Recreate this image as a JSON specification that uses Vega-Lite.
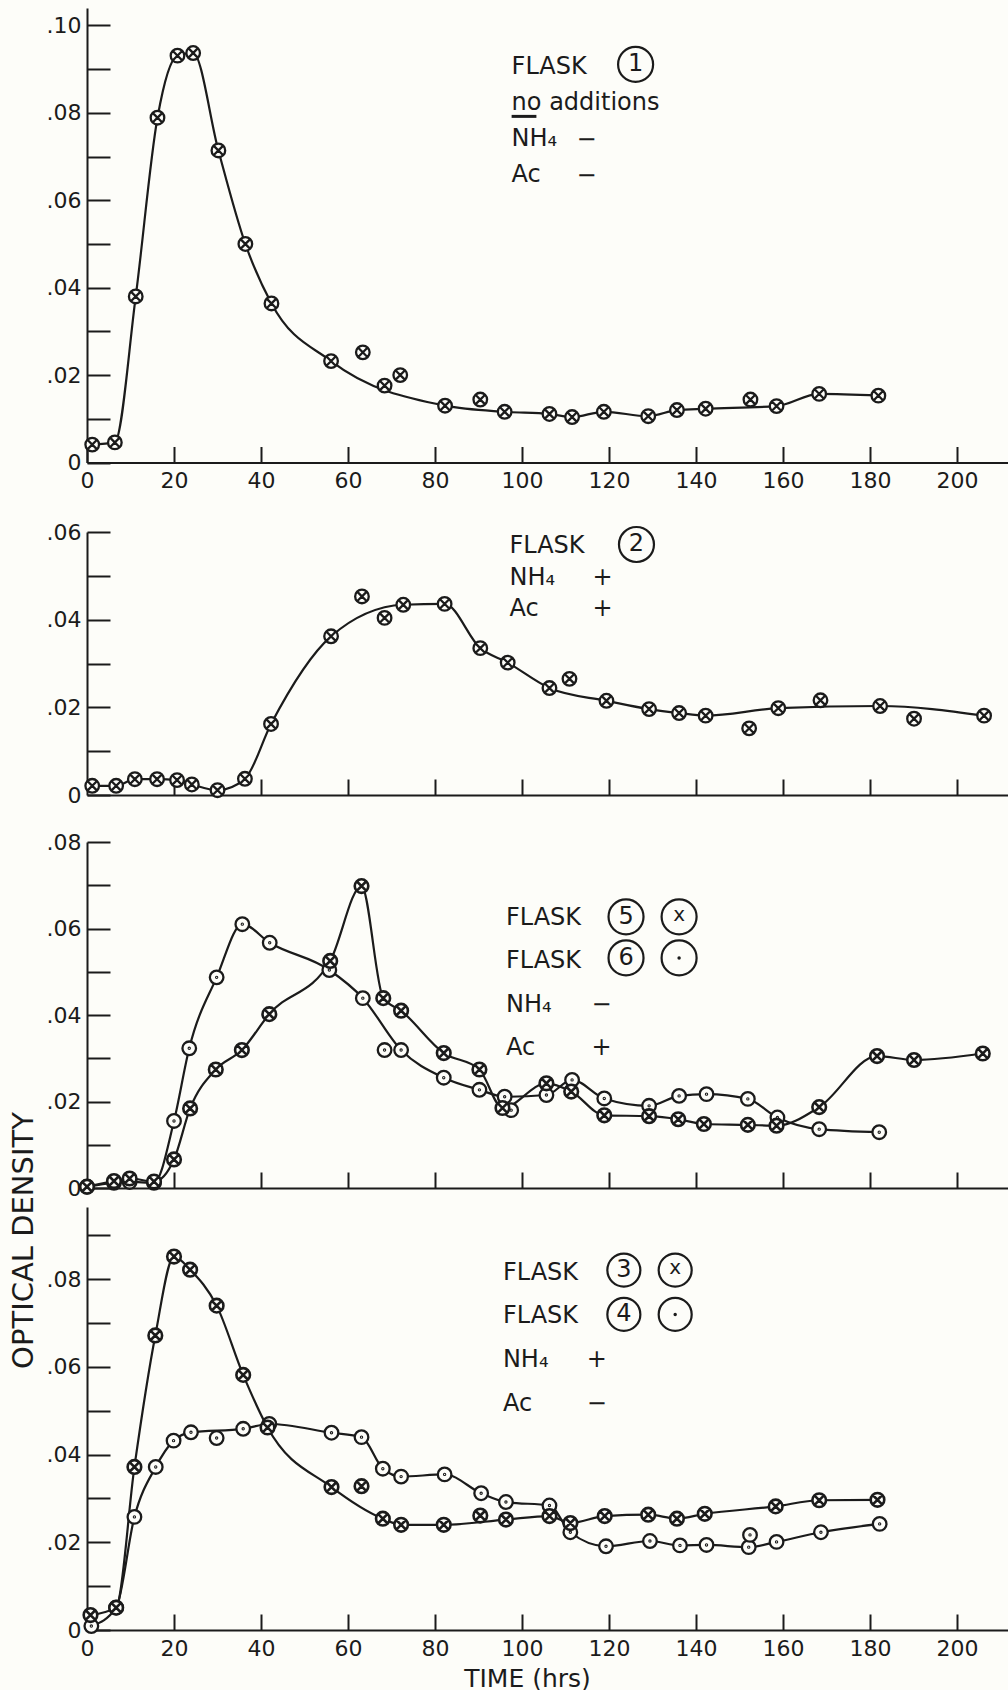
{
  "$schema": "https://vega.github.io/schema/vega-lite/v6.json",
  "background": "#fdfdf9",
  "padding": {"top": 8, "left": 7, "right": 0, "bottom": 0},
  "config": {
    "view": {"stroke": null},
    "font": "DejaVu Sans",
    "text": {"font": "DejaVu Sans", "color": "#1b1b1b"},
    "axis": {
      "grid": false,
      "domainColor": "#1b1b1b",
      "domainWidth": 2,
      "tickColor": "#1b1b1b",
      "tickWidth": 2,
      "labelColor": "#1b1b1b",
      "labelFont": "DejaVu Sans",
      "labelFontSize": 22,
      "labelOverlap": false,
      "labelFlush": false,
      "titleColor": "#1b1b1b",
      "titleFont": "DejaVu Sans",
      "titleFontWeight": "normal"
    }
  },
  "datasets": {
    "readings": [
      {"flask": 1, "hours": 1.2, "od": 0.0041, "onCurve": true},
      {"flask": 1, "hours": 6.4, "od": 0.0046, "onCurve": true},
      {"flask": 1, "hours": 11.2, "od": 0.038, "onCurve": true},
      {"flask": 1, "hours": 16.2, "od": 0.0789, "onCurve": true},
      {"flask": 1, "hours": 20.8, "od": 0.0931, "onCurve": true},
      {"flask": 1, "hours": 24.4, "od": 0.0937, "onCurve": true},
      {"flask": 1, "hours": 30.2, "od": 0.0714, "onCurve": true},
      {"flask": 1, "hours": 36.4, "od": 0.05, "onCurve": true},
      {"flask": 1, "hours": 42.4, "od": 0.0364, "onCurve": true},
      {"flask": 1, "hours": 56.1, "od": 0.0232, "onCurve": true},
      {"flask": 1, "hours": 63.4, "od": 0.0252, "onCurve": false},
      {"flask": 1, "hours": 68.4, "od": 0.0176, "onCurve": false},
      {"flask": 1, "hours": 72.0, "od": 0.02, "onCurve": false},
      {"flask": 1, "hours": 82.3, "od": 0.013, "onCurve": true},
      {"flask": 1, "hours": 90.4, "od": 0.0144, "onCurve": false},
      {"flask": 1, "hours": 96.0, "od": 0.0116, "onCurve": true},
      {"flask": 1, "hours": 106.3, "od": 0.0111, "onCurve": true},
      {"flask": 1, "hours": 111.5, "od": 0.0104, "onCurve": true},
      {"flask": 1, "hours": 118.8, "od": 0.0116, "onCurve": true},
      {"flask": 1, "hours": 129.0, "od": 0.0106, "onCurve": true},
      {"flask": 1, "hours": 135.6, "od": 0.012, "onCurve": true},
      {"flask": 1, "hours": 142.2, "od": 0.0123, "onCurve": true},
      {"flask": 1, "hours": 152.5, "od": 0.0144, "onCurve": false},
      {"flask": 1, "hours": 158.5, "od": 0.0129, "onCurve": true},
      {"flask": 1, "hours": 168.3, "od": 0.0157, "onCurve": true},
      {"flask": 1, "hours": 181.9, "od": 0.0153, "onCurve": true},

      {"flask": 2, "hours": 1.2, "od": 0.0021, "onCurve": true},
      {"flask": 2, "hours": 6.7, "od": 0.0021, "onCurve": true},
      {"flask": 2, "hours": 11.0, "od": 0.0036, "onCurve": true},
      {"flask": 2, "hours": 16.1, "od": 0.0036, "onCurve": true},
      {"flask": 2, "hours": 20.7, "od": 0.0034, "onCurve": true},
      {"flask": 2, "hours": 24.1, "od": 0.0024, "onCurve": true},
      {"flask": 2, "hours": 30.0, "od": 0.0011, "onCurve": true},
      {"flask": 2, "hours": 36.3, "od": 0.0037, "onCurve": true},
      {"flask": 2, "hours": 42.3, "od": 0.0162, "onCurve": true},
      {"flask": 2, "hours": 56.1, "od": 0.0362, "onCurve": true},
      {"flask": 2, "hours": 63.2, "od": 0.0453, "onCurve": false},
      {"flask": 2, "hours": 68.4, "od": 0.0404, "onCurve": false},
      {"flask": 2, "hours": 72.7, "od": 0.0434, "onCurve": true},
      {"flask": 2, "hours": 82.2, "od": 0.0436, "onCurve": true},
      {"flask": 2, "hours": 90.4, "od": 0.0335, "onCurve": true},
      {"flask": 2, "hours": 96.7, "od": 0.0302, "onCurve": true},
      {"flask": 2, "hours": 106.3, "od": 0.0244, "onCurve": true},
      {"flask": 2, "hours": 110.9, "od": 0.0265, "onCurve": false},
      {"flask": 2, "hours": 119.4, "od": 0.0215, "onCurve": true},
      {"flask": 2, "hours": 129.2, "od": 0.0196, "onCurve": true},
      {"flask": 2, "hours": 136.1, "od": 0.0187, "onCurve": true},
      {"flask": 2, "hours": 142.2, "od": 0.0181, "onCurve": true},
      {"flask": 2, "hours": 152.2, "od": 0.0152, "onCurve": false},
      {"flask": 2, "hours": 158.9, "od": 0.0198, "onCurve": true},
      {"flask": 2, "hours": 168.6, "od": 0.0216, "onCurve": false},
      {"flask": 2, "hours": 182.3, "od": 0.0203, "onCurve": true},
      {"flask": 2, "hours": 190.1, "od": 0.0174, "onCurve": false},
      {"flask": 2, "hours": 206.2, "od": 0.0181, "onCurve": true},

      {"flask": 6, "hours": 0.0, "od": 0.0003, "onCurve": true},
      {"flask": 6, "hours": 6.2, "od": 0.0012, "onCurve": true},
      {"flask": 6, "hours": 9.8, "od": 0.0014, "onCurve": true},
      {"flask": 6, "hours": 15.4, "od": 0.0012, "onCurve": true},
      {"flask": 6, "hours": 20.0, "od": 0.0155, "onCurve": true},
      {"flask": 6, "hours": 23.5, "od": 0.0323, "onCurve": true},
      {"flask": 6, "hours": 29.8, "od": 0.0487, "onCurve": true},
      {"flask": 6, "hours": 35.7, "od": 0.061, "onCurve": true},
      {"flask": 6, "hours": 42.0, "od": 0.0567, "onCurve": true},
      {"flask": 6, "hours": 55.7, "od": 0.0504, "onCurve": true},
      {"flask": 6, "hours": 63.4, "od": 0.0439, "onCurve": true},
      {"flask": 6, "hours": 68.4, "od": 0.0319, "onCurve": false},
      {"flask": 6, "hours": 72.2, "od": 0.0319, "onCurve": true},
      {"flask": 6, "hours": 82.0, "od": 0.0255, "onCurve": true},
      {"flask": 6, "hours": 90.2, "od": 0.0227, "onCurve": true},
      {"flask": 6, "hours": 96.0, "od": 0.0211, "onCurve": true},
      {"flask": 6, "hours": 97.5, "od": 0.018, "onCurve": false},
      {"flask": 6, "hours": 105.6, "od": 0.0215, "onCurve": true},
      {"flask": 6, "hours": 111.5, "od": 0.025, "onCurve": true},
      {"flask": 6, "hours": 118.9, "od": 0.0207, "onCurve": true},
      {"flask": 6, "hours": 129.2, "od": 0.019, "onCurve": true},
      {"flask": 6, "hours": 136.1, "od": 0.0213, "onCurve": true},
      {"flask": 6, "hours": 142.4, "od": 0.0217, "onCurve": true},
      {"flask": 6, "hours": 151.9, "od": 0.0206, "onCurve": true},
      {"flask": 6, "hours": 158.7, "od": 0.0163, "onCurve": true},
      {"flask": 6, "hours": 168.3, "od": 0.0136, "onCurve": true},
      {"flask": 6, "hours": 182.1, "od": 0.0129, "onCurve": true},

      {"flask": 5, "hours": 0.0, "od": 0.0003, "onCurve": true},
      {"flask": 5, "hours": 6.2, "od": 0.0016, "onCurve": true},
      {"flask": 5, "hours": 9.8, "od": 0.0022, "onCurve": true},
      {"flask": 5, "hours": 15.4, "od": 0.0015, "onCurve": true},
      {"flask": 5, "hours": 20.0, "od": 0.0066, "onCurve": true},
      {"flask": 5, "hours": 23.7, "od": 0.0184, "onCurve": true},
      {"flask": 5, "hours": 29.6, "od": 0.0274, "onCurve": true},
      {"flask": 5, "hours": 35.6, "od": 0.0319, "onCurve": true},
      {"flask": 5, "hours": 41.9, "od": 0.0402, "onCurve": true},
      {"flask": 5, "hours": 55.9, "od": 0.0525, "onCurve": true},
      {"flask": 5, "hours": 63.1, "od": 0.0698, "onCurve": true},
      {"flask": 5, "hours": 68.1, "od": 0.0439, "onCurve": true},
      {"flask": 5, "hours": 72.2, "od": 0.041, "onCurve": true},
      {"flask": 5, "hours": 82.0, "od": 0.0312, "onCurve": true},
      {"flask": 5, "hours": 90.2, "od": 0.0274, "onCurve": true},
      {"flask": 5, "hours": 95.5, "od": 0.0185, "onCurve": true},
      {"flask": 5, "hours": 105.6, "od": 0.0242, "onCurve": true},
      {"flask": 5, "hours": 111.3, "od": 0.0223, "onCurve": true},
      {"flask": 5, "hours": 118.9, "od": 0.0168, "onCurve": true},
      {"flask": 5, "hours": 129.2, "od": 0.0166, "onCurve": true},
      {"flask": 5, "hours": 135.9, "od": 0.0159, "onCurve": true},
      {"flask": 5, "hours": 141.8, "od": 0.0148, "onCurve": true},
      {"flask": 5, "hours": 151.9, "od": 0.0146, "onCurve": true},
      {"flask": 5, "hours": 158.5, "od": 0.0144, "onCurve": true},
      {"flask": 5, "hours": 168.3, "od": 0.0187, "onCurve": true},
      {"flask": 5, "hours": 181.6, "od": 0.0305, "onCurve": true},
      {"flask": 5, "hours": 190.1, "od": 0.0296, "onCurve": true},
      {"flask": 5, "hours": 205.9, "od": 0.0311, "onCurve": true},

      {"flask": 4, "hours": 1.0, "od": 0.0009, "onCurve": true},
      {"flask": 4, "hours": 6.7, "od": 0.0051, "onCurve": true},
      {"flask": 4, "hours": 10.9, "od": 0.0258, "onCurve": true},
      {"flask": 4, "hours": 15.8, "od": 0.0372, "onCurve": true},
      {"flask": 4, "hours": 19.9, "od": 0.0432, "onCurve": true},
      {"flask": 4, "hours": 23.9, "od": 0.0451, "onCurve": true},
      {"flask": 4, "hours": 29.8, "od": 0.0438, "onCurve": false},
      {"flask": 4, "hours": 35.9, "od": 0.0459, "onCurve": true},
      {"flask": 4, "hours": 41.9, "od": 0.047, "onCurve": true},
      {"flask": 4, "hours": 56.2, "od": 0.045, "onCurve": true},
      {"flask": 4, "hours": 63.1, "od": 0.044, "onCurve": true},
      {"flask": 4, "hours": 68.0, "od": 0.0368, "onCurve": true},
      {"flask": 4, "hours": 72.2, "od": 0.035, "onCurve": true},
      {"flask": 4, "hours": 82.2, "od": 0.0355, "onCurve": true},
      {"flask": 4, "hours": 90.6, "od": 0.0312, "onCurve": true},
      {"flask": 4, "hours": 96.3, "od": 0.0292, "onCurve": true},
      {"flask": 4, "hours": 106.3, "od": 0.0284, "onCurve": true},
      {"flask": 4, "hours": 111.1, "od": 0.0223, "onCurve": true},
      {"flask": 4, "hours": 119.3, "od": 0.0191, "onCurve": true},
      {"flask": 4, "hours": 129.4, "od": 0.0203, "onCurve": true},
      {"flask": 4, "hours": 136.3, "od": 0.0193, "onCurve": true},
      {"flask": 4, "hours": 142.4, "od": 0.0194, "onCurve": true},
      {"flask": 4, "hours": 152.1, "od": 0.0189, "onCurve": true},
      {"flask": 4, "hours": 152.4, "od": 0.0217, "onCurve": false},
      {"flask": 4, "hours": 158.5, "od": 0.0201, "onCurve": true},
      {"flask": 4, "hours": 168.7, "od": 0.0223, "onCurve": true},
      {"flask": 4, "hours": 182.2, "od": 0.0242, "onCurve": true},

      {"flask": 3, "hours": 0.8, "od": 0.0034, "onCurve": true},
      {"flask": 3, "hours": 6.7, "od": 0.0051, "onCurve": true},
      {"flask": 3, "hours": 10.9, "od": 0.0372, "onCurve": true},
      {"flask": 3, "hours": 15.7, "od": 0.0672, "onCurve": true},
      {"flask": 3, "hours": 20.0, "od": 0.0852, "onCurve": true},
      {"flask": 3, "hours": 23.7, "od": 0.0822, "onCurve": true},
      {"flask": 3, "hours": 29.8, "od": 0.074, "onCurve": true},
      {"flask": 3, "hours": 35.9, "od": 0.0582, "onCurve": true},
      {"flask": 3, "hours": 41.5, "od": 0.0462, "onCurve": true},
      {"flask": 3, "hours": 56.2, "od": 0.0326, "onCurve": true},
      {"flask": 3, "hours": 63.1, "od": 0.0328, "onCurve": false},
      {"flask": 3, "hours": 68.0, "od": 0.0254, "onCurve": true},
      {"flask": 3, "hours": 72.2, "od": 0.024, "onCurve": true},
      {"flask": 3, "hours": 82.0, "od": 0.024, "onCurve": true},
      {"flask": 3, "hours": 90.4, "od": 0.0261, "onCurve": false},
      {"flask": 3, "hours": 96.3, "od": 0.0252, "onCurve": true},
      {"flask": 3, "hours": 106.3, "od": 0.026, "onCurve": true},
      {"flask": 3, "hours": 111.1, "od": 0.0244, "onCurve": true},
      {"flask": 3, "hours": 119.0, "od": 0.026, "onCurve": true},
      {"flask": 3, "hours": 129.0, "od": 0.0263, "onCurve": true},
      {"flask": 3, "hours": 135.6, "od": 0.0254, "onCurve": true},
      {"flask": 3, "hours": 142.0, "od": 0.0265, "onCurve": true},
      {"flask": 3, "hours": 158.3, "od": 0.0282, "onCurve": true},
      {"flask": 3, "hours": 168.3, "od": 0.0296, "onCurve": true},
      {"flask": 3, "hours": 181.7, "od": 0.0297, "onCurve": true}
    ]
  },
  "spacing": 25,
  "vconcat": [
    {
      "spacing": 29,
      "vconcat": [
        {
          "width": 921,
          "height": 454.5,
          "layer": [
            {
              "data": {"name": "readings"},
              "transform": [{"filter": "datum.flask == 1 && datum.onCurve"}],
              "mark": {"type": "line", "interpolate": "monotone", "stroke": "#1b1b1b", "strokeWidth": 2.2},
              "encoding": {
                "x": {"field": "hours", "type": "quantitative",
                  "scale": {"domain": [0, 211.7], "nice": false, "zero": false},
                  "axis": {"title": null, "values": [0, 20, 40, 60, 80, 100, 120, 140, 160, 180, 200], "tickSize": -16, "labelPadding": 24}},
                "y": {"field": "od", "type": "quantitative",
                  "scale": {"domain": [0, 0.104], "nice": false},
                  "axis": {"title": null, "values": [0, 0.01, 0.02, 0.03, 0.04, 0.05, 0.06, 0.07, 0.08, 0.09, 0.1], "tickSize": -23, "labelPadding": 29, "minExtent": 80, "maxExtent": 80,
                    "labelExpr": "(round(datum.value * 100) % 2 == 0) ? (datum.value == 0 ? '0' : slice(format(datum.value, '.2f'), 1)) : ''"}},
                "detail": {"field": "flask"}
              }
            },
            {
              "data": {"name": "readings"},
              "transform": [{"filter": "datum.flask == 1"}],
              "mark": {"type": "point", "shape": "M1,0A1,1,0,1,1,-1,0A1,1,0,1,1,1,0ZM-0.6,-0.6L0.6,0.6M-0.6,0.6L0.6,-0.6", "size": 185, "filled": true, "fill": "#fdfdf9", "stroke": "#1b1b1b", "strokeWidth": 2.3, "opacity": 1},
              "encoding": {"x": {"field": "hours", "type": "quantitative"}, "y": {"field": "od", "type": "quantitative"}}
            },
            {
              "data": {"values": [{}]},
              "mark": {"type": "text", "align": "left", "baseline": "alphabetic", "fontSize": 24, "lineHeight": 36, "text": ["FLASK", "no additions", "NH₄", "Ac"]},
              "encoding": {"x": {"datum": 97.6}, "y": {"datum": 0.0888}}
            },
            {
              "data": {"values": [{}]},
              "mark": {"type": "text", "align": "center", "baseline": "alphabetic", "fontSize": 24, "lineHeight": 36, "text": ["−", "−"]},
              "encoding": {"x": {"datum": 114.8}, "y": {"datum": 0.0723}}
            },
            {
              "data": {"values": [{}]},
              "mark": {"type": "rule", "stroke": "#1b1b1b", "strokeWidth": 3},
              "encoding": {"x": {"datum": 97.6}, "x2": {"datum": 103.3}, "y": {"datum": 0.0792}}
            },
            {
              "data": {"values": [{}]},
              "mark": {"type": "point", "shape": "circle", "size": 1225, "filled": false, "stroke": "#1b1b1b", "strokeWidth": 2.2, "opacity": 1},
              "encoding": {"x": {"datum": 126.1}, "y": {"datum": 0.0911}}
            },
            {
              "data": {"values": [{}]},
              "mark": {"type": "text", "align": "center", "baseline": "middle", "fontSize": 24, "text": "1"},
              "encoding": {"x": {"datum": 126.1}, "y": {"datum": 0.0911}}
            }
          ]
        },
        {
          "width": 921,
          "height": 263,
          "layer": [
            {
              "data": {"name": "readings"},
              "transform": [{"filter": "datum.flask == 2 && datum.onCurve"}],
              "mark": {"type": "line", "interpolate": "monotone", "stroke": "#1b1b1b", "strokeWidth": 2.2},
              "encoding": {
                "x": {"field": "hours", "type": "quantitative",
                  "scale": {"domain": [0, 211.7], "nice": false, "zero": false},
                  "axis": {"title": null, "values": [20, 40, 60, 80, 100, 120, 140, 160, 180, 200], "tickSize": -16, "labels": false}},
                "y": {"field": "od", "type": "quantitative",
                  "scale": {"domain": [0, 0.06], "nice": false},
                  "axis": {"title": null, "values": [0, 0.01, 0.02, 0.03, 0.04, 0.05, 0.06], "tickSize": -23, "labelPadding": 29, "minExtent": 80, "maxExtent": 80,
                    "labelExpr": "(round(datum.value * 100) % 2 == 0) ? (datum.value == 0 ? '0' : slice(format(datum.value, '.2f'), 1)) : ''"}},
                "detail": {"field": "flask"}
              }
            },
            {
              "data": {"name": "readings"},
              "transform": [{"filter": "datum.flask == 2"}],
              "mark": {"type": "point", "shape": "M1,0A1,1,0,1,1,-1,0A1,1,0,1,1,1,0ZM-0.6,-0.6L0.6,0.6M-0.6,0.6L0.6,-0.6", "size": 185, "filled": true, "fill": "#fdfdf9", "stroke": "#1b1b1b", "strokeWidth": 2.3, "opacity": 1},
              "encoding": {"x": {"field": "hours", "type": "quantitative"}, "y": {"field": "od", "type": "quantitative"}}
            },
            {
              "data": {"values": [{}]},
              "mark": {"type": "text", "align": "left", "baseline": "alphabetic", "fontSize": 24, "lineHeight": 31.7, "text": ["FLASK", "NH₄", "Ac"]},
              "encoding": {"x": {"datum": 97.1}, "y": {"datum": 0.05525}}
            },
            {
              "data": {"values": [{}]},
              "mark": {"type": "text", "align": "center", "baseline": "alphabetic", "fontSize": 24, "lineHeight": 31.7, "text": ["+", "+"]},
              "encoding": {"x": {"datum": 118.5}, "y": {"datum": 0.048}}
            },
            {
              "data": {"values": [{}]},
              "mark": {"type": "point", "shape": "circle", "size": 1225, "filled": false, "stroke": "#1b1b1b", "strokeWidth": 2.2, "opacity": 1},
              "encoding": {"x": {"datum": 126.3}, "y": {"datum": 0.05715}}
            },
            {
              "data": {"values": [{}]},
              "mark": {"type": "text", "align": "center", "baseline": "middle", "fontSize": 24, "text": "2"},
              "encoding": {"x": {"datum": 126.3}, "y": {"datum": 0.05715}}
            }
          ]
        }
      ]
    },
    {
      "spacing": 19,
      "bounds": "flush",
      "vconcat": [
        {
          "width": 921,
          "height": 346,
          "layer": [
            {
              "data": {"name": "readings"},
              "transform": [{"filter": "(datum.flask == 5 || datum.flask == 6) && datum.onCurve"}],
              "mark": {"type": "line", "interpolate": "monotone", "stroke": "#1b1b1b", "strokeWidth": 2.2},
              "encoding": {
                "x": {"field": "hours", "type": "quantitative",
                  "scale": {"domain": [0, 211.7], "nice": false, "zero": false},
                  "axis": {"title": null, "values": [20, 40, 60, 80, 100, 120, 140, 160, 180, 200], "tickSize": -16, "labels": false}},
                "y": {"field": "od", "type": "quantitative",
                  "scale": {"domain": [0, 0.08], "nice": false},
                  "axis": {"title": null, "values": [0, 0.01, 0.02, 0.03, 0.04, 0.05, 0.06, 0.07, 0.08], "tickSize": -23, "labelPadding": 29, "minExtent": 80, "maxExtent": 80,
                    "labelExpr": "(round(datum.value * 100) % 2 == 0) ? (datum.value == 0 ? '0' : slice(format(datum.value, '.2f'), 1)) : ''"}},
                "detail": {"field": "flask"}
              }
            },
            {
              "data": {"name": "readings"},
              "transform": [{"filter": "datum.flask == 6"}],
              "mark": {"type": "point", "shape": "M1,0A1,1,0,1,1,-1,0A1,1,0,1,1,1,0ZM0.08,0A0.08,0.08,0,1,1,-0.08,0A0.08,0.08,0,1,1,0.08,0Z", "size": 185, "filled": true, "fill": "#fdfdf9", "stroke": "#1b1b1b", "strokeWidth": 2.3, "opacity": 1},
              "encoding": {"x": {"field": "hours", "type": "quantitative"}, "y": {"field": "od", "type": "quantitative"}}
            },
            {
              "data": {"name": "readings"},
              "transform": [{"filter": "datum.flask == 5"}],
              "mark": {"type": "point", "shape": "M1,0A1,1,0,1,1,-1,0A1,1,0,1,1,1,0ZM-0.6,-0.6L0.6,0.6M-0.6,0.6L0.6,-0.6", "size": 185, "filled": true, "fill": "#fdfdf9", "stroke": "#1b1b1b", "strokeWidth": 2.6, "opacity": 1},
              "encoding": {"x": {"field": "hours", "type": "quantitative"}, "y": {"field": "od", "type": "quantitative"}}
            },
            {
              "data": {"values": [{}]},
              "mark": {"type": "text", "align": "left", "baseline": "alphabetic", "fontSize": 24, "lineHeight": 43.3, "text": ["FLASK", "FLASK", "NH₄", "Ac"]},
              "encoding": {"x": {"datum": 96.3}, "y": {"datum": 0.0608}}
            },
            {
              "data": {"values": [{}]},
              "mark": {"type": "text", "align": "center", "baseline": "alphabetic", "fontSize": 24, "lineHeight": 43.3, "text": ["−", "+"]},
              "encoding": {"x": {"datum": 118.3}, "y": {"datum": 0.0408}}
            },
            {
              "data": {"values": [{}]},
              "mark": {"type": "point", "shape": "circle", "size": 1225, "filled": false, "stroke": "#1b1b1b", "strokeWidth": 2.2, "opacity": 1},
              "encoding": {"x": {"datum": 123.9}, "y": {"datum": 0.0627}}
            },
            {
              "data": {"values": [{}]},
              "mark": {"type": "point", "shape": "circle", "size": 1225, "filled": false, "stroke": "#1b1b1b", "strokeWidth": 2.2, "opacity": 1},
              "encoding": {"x": {"datum": 136.1}, "y": {"datum": 0.0627}}
            },
            {
              "data": {"values": [{}]},
              "mark": {"type": "point", "shape": "circle", "size": 1225, "filled": false, "stroke": "#1b1b1b", "strokeWidth": 2.2, "opacity": 1},
              "encoding": {"x": {"datum": 123.9}, "y": {"datum": 0.0532}}
            },
            {
              "data": {"values": [{}]},
              "mark": {"type": "point", "shape": "circle", "size": 1225, "filled": false, "stroke": "#1b1b1b", "strokeWidth": 2.2, "opacity": 1},
              "encoding": {"x": {"datum": 136.1}, "y": {"datum": 0.0532}}
            },
            {
              "data": {"values": [{}]},
              "mark": {"type": "text", "align": "center", "baseline": "middle", "fontSize": 24, "text": "5"},
              "encoding": {"x": {"datum": 123.9}, "y": {"datum": 0.0627}}
            },
            {
              "data": {"values": [{}]},
              "mark": {"type": "text", "align": "center", "baseline": "middle", "fontSize": 20, "text": "x"},
              "encoding": {"x": {"datum": 136.1}, "y": {"datum": 0.0632}}
            },
            {
              "data": {"values": [{}]},
              "mark": {"type": "text", "align": "center", "baseline": "middle", "fontSize": 24, "text": "6"},
              "encoding": {"x": {"datum": 123.9}, "y": {"datum": 0.0532}}
            },
            {
              "data": {"values": [{}]},
              "mark": {"type": "point", "shape": "circle", "size": 12, "filled": true, "fill": "#1b1b1b", "opacity": 1},
              "encoding": {"x": {"datum": 136.1}, "y": {"datum": 0.0532}}
            }
          ]
        },
        {
          "width": 921,
          "height": 423,
          "layer": [
            {
              "data": {"name": "readings"},
              "transform": [{"filter": "(datum.flask == 3 || datum.flask == 4) && datum.onCurve"}],
              "mark": {"type": "line", "interpolate": "monotone", "stroke": "#1b1b1b", "strokeWidth": 2.2},
              "encoding": {
                "x": {"field": "hours", "type": "quantitative",
                  "scale": {"domain": [0, 211.7], "nice": false, "zero": false},
                  "axis": {"title": "TIME (hrs)", "titleFontSize": 25, "titleX": 440, "titleY": 56, "titleBaseline": "alphabetic", "titleAlign": "center", "titleAngle": 0,
                    "values": [0, 20, 40, 60, 80, 100, 120, 140, 160, 180, 200], "tickSize": -16, "labelPadding": 24}},
                "y": {"field": "od", "type": "quantitative",
                  "scale": {"domain": [0, 0.0965], "nice": false},
                  "axis": {"title": "OPTICAL DENSITY", "titleFontSize": 29, "titleX": -55, "titleY": 33, "titleAngle": -90, "titleBaseline": "alphabetic", "titleAlign": "center",
                    "values": [0, 0.01, 0.02, 0.03, 0.04, 0.05, 0.06, 0.07, 0.08, 0.09], "tickSize": -23, "labelPadding": 29, "minExtent": 80, "maxExtent": 80,
                    "labelExpr": "(round(datum.value * 100) % 2 == 0) ? (datum.value == 0 ? '0' : slice(format(datum.value, '.2f'), 1)) : ''"}},
                "detail": {"field": "flask"}
              }
            },
            {
              "data": {"name": "readings"},
              "transform": [{"filter": "datum.flask == 4"}],
              "mark": {"type": "point", "shape": "M1,0A1,1,0,1,1,-1,0A1,1,0,1,1,1,0ZM0.08,0A0.08,0.08,0,1,1,-0.08,0A0.08,0.08,0,1,1,0.08,0Z", "size": 185, "filled": true, "fill": "#fdfdf9", "stroke": "#1b1b1b", "strokeWidth": 2.3, "opacity": 1},
              "encoding": {"x": {"field": "hours", "type": "quantitative"}, "y": {"field": "od", "type": "quantitative"}}
            },
            {
              "data": {"name": "readings"},
              "transform": [{"filter": "datum.flask == 3"}],
              "mark": {"type": "point", "shape": "M1,0A1,1,0,1,1,-1,0A1,1,0,1,1,1,0ZM-0.6,-0.6L0.6,0.6M-0.6,0.6L0.6,-0.6", "size": 185, "filled": true, "fill": "#fdfdf9", "stroke": "#1b1b1b", "strokeWidth": 2.6, "opacity": 1},
              "encoding": {"x": {"field": "hours", "type": "quantitative"}, "y": {"field": "od", "type": "quantitative"}}
            },
            {
              "data": {"values": [{}]},
              "mark": {"type": "text", "align": "left", "baseline": "alphabetic", "fontSize": 24, "lineHeight": 43.7, "text": ["FLASK", "FLASK", "NH₄", "Ac"]},
              "encoding": {"x": {"datum": 95.6}, "y": {"datum": 0.07996}}
            },
            {
              "data": {"values": [{}]},
              "mark": {"type": "text", "align": "center", "baseline": "alphabetic", "fontSize": 24, "lineHeight": 43.7, "text": ["+", "−"]},
              "encoding": {"x": {"datum": 117.2}, "y": {"datum": 0.06}}
            },
            {
              "data": {"values": [{}]},
              "mark": {"type": "point", "shape": "circle", "size": 1090, "filled": false, "stroke": "#1b1b1b", "strokeWidth": 2.2, "opacity": 1},
              "encoding": {"x": {"datum": 123.4}, "y": {"datum": 0.0821}}
            },
            {
              "data": {"values": [{}]},
              "mark": {"type": "point", "shape": "circle", "size": 1090, "filled": false, "stroke": "#1b1b1b", "strokeWidth": 2.2, "opacity": 1},
              "encoding": {"x": {"datum": 135.2}, "y": {"datum": 0.0821}}
            },
            {
              "data": {"values": [{}]},
              "mark": {"type": "point", "shape": "circle", "size": 1090, "filled": false, "stroke": "#1b1b1b", "strokeWidth": 2.2, "opacity": 1},
              "encoding": {"x": {"datum": 123.4}, "y": {"datum": 0.072}}
            },
            {
              "data": {"values": [{}]},
              "mark": {"type": "point", "shape": "circle", "size": 1090, "filled": false, "stroke": "#1b1b1b", "strokeWidth": 2.2, "opacity": 1},
              "encoding": {"x": {"datum": 135.2}, "y": {"datum": 0.072}}
            },
            {
              "data": {"values": [{}]},
              "mark": {"type": "text", "align": "center", "baseline": "middle", "fontSize": 24, "text": "3"},
              "encoding": {"x": {"datum": 123.4}, "y": {"datum": 0.0821}}
            },
            {
              "data": {"values": [{}]},
              "mark": {"type": "text", "align": "center", "baseline": "middle", "fontSize": 20, "text": "x"},
              "encoding": {"x": {"datum": 135.2}, "y": {"datum": 0.0826}}
            },
            {
              "data": {"values": [{}]},
              "mark": {"type": "text", "align": "center", "baseline": "middle", "fontSize": 24, "text": "4"},
              "encoding": {"x": {"datum": 123.4}, "y": {"datum": 0.072}}
            },
            {
              "data": {"values": [{}]},
              "mark": {"type": "point", "shape": "circle", "size": 12, "filled": true, "fill": "#1b1b1b", "opacity": 1},
              "encoding": {"x": {"datum": 135.2}, "y": {"datum": 0.072}}
            }
          ]
        }
      ]
    }
  ]
}
